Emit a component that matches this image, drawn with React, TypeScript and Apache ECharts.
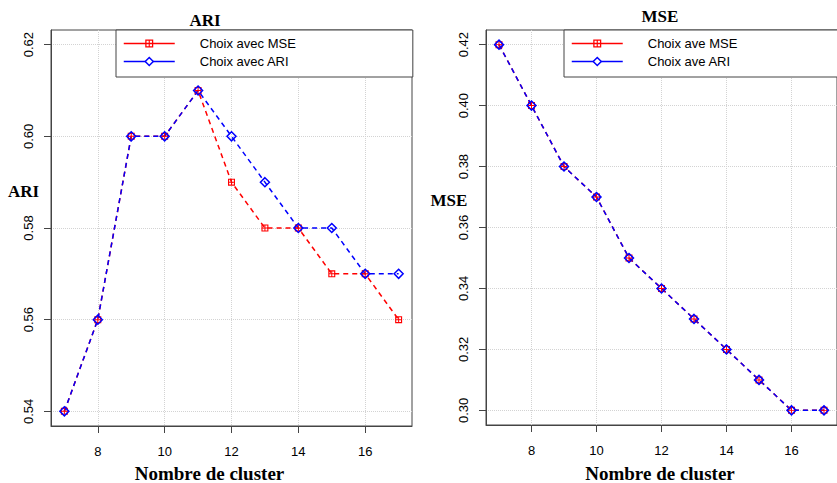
import React, { useEffect, useRef } from "react";
import * as echarts from "echarts";

const clusters = [7, 8, 9, 10, 11, 12, 13, 14, 15, 16, 17];
const ariChoixMSE = [0.54, 0.56, 0.6, 0.6, 0.61, 0.59, 0.58, 0.58, 0.57, 0.57, 0.56];
const ariChoixARI = [0.54, 0.56, 0.6, 0.6, 0.61, 0.6, 0.59, 0.58, 0.58, 0.57, 0.57];
const mseChoixMSE = [0.42, 0.4, 0.38, 0.37, 0.35, 0.34, 0.33, 0.32, 0.31, 0.3, 0.3];
const mseChoixARI = [0.42, 0.4, 0.38, 0.37, 0.35, 0.34, 0.33, 0.32, 0.31, 0.3, 0.3];
const xTicks = [8, 10, 12, 14, 16];
const ariTicks = [0.54, 0.56, 0.58, 0.6, 0.62];
const mseTicks = [0.3, 0.32, 0.34, 0.36, 0.38, 0.4, 0.42];

const RED = "#ff0000";
const BLUE = "#0000ff";
const SANS = "Liberation Sans, Arial, sans-serif";
const SERIF = "Liberation Serif, Times New Roman, serif";
const SQUARE_PLUS =
  "path://M0,0H10V10H0Z M1.6,1.6V4.3H4.3V1.6Z M5.7,1.6V4.3H8.4V1.6Z M1.6,5.7V8.4H4.3V5.7Z M5.7,5.7V8.4H8.4V5.7Z";

function pairs(ys: number[]) {
  return clusters.map((x, i) => [x, ys[i]]);
}

function xAxisFor(gridIndex: number) {
  return {
    type: "value",
    gridIndex,
    min: 6.6,
    max: 17.4,
    axisLine: { show: true, lineStyle: { color: "#444", width: 1 } },
    axisTick: { show: true, length: 7, customValues: xTicks, lineStyle: { color: "#444" } },
    axisLabel: {
      customValues: xTicks,
      margin: 19,
      fontSize: 13,
      color: "#000",
      fontFamily: SANS,
    },
    splitLine: { show: true, lineStyle: { color: "#d3d3d3", type: "dotted", width: 1 } },
  };
}

function yAxisFor(gridIndex: number, min: number, max: number, ticks: number[]) {
  return {
    type: "value",
    gridIndex,
    min,
    max,
    axisLine: { show: true, lineStyle: { color: "#444", width: 1 } },
    axisTick: { show: true, length: 7, customValues: ticks, lineStyle: { color: "#444" } },
    axisLabel: {
      customValues: ticks,
      rotate: 90,
      margin: 16,
      fontSize: 13,
      color: "#000",
      fontFamily: SANS,
      formatter: (v: number) => v.toFixed(2),
    },
    splitLine: { show: true, lineStyle: { color: "#d3d3d3", type: "dotted", width: 1 } },
  };
}

function redSeries(name: string, idx: number, ys: number[]) {
  return {
    name,
    type: "line",
    xAxisIndex: idx,
    yAxisIndex: idx,
    data: pairs(ys),
    symbol: SQUARE_PLUS,
    symbolSize: 7,
    itemStyle: { color: RED },
    lineStyle: { color: RED, width: 1.5, type: [5, 4] },
  };
}

function blueSeries(name: string, idx: number, ys: number[]) {
  return {
    name,
    type: "line",
    xAxisIndex: idx,
    yAxisIndex: idx,
    data: pairs(ys),
    symbol: "diamond",
    symbolSize: 9,
    itemStyle: { color: "rgba(0,0,0,0)", borderColor: BLUE, borderWidth: 1.5 },
    lineStyle: { color: BLUE, width: 1.5, type: [5, 4] },
  };
}

function legendFor(left: number, names: string[], padRight: number) {
  return {
    orient: "vertical",
    left,
    top: 30,
    padding: [7, padRight, 9, 7],
    itemWidth: 51,
    itemHeight: 10,
    itemGap: 5,
    backgroundColor: "#fff",
    borderColor: "#444",
    borderWidth: 1,
    borderRadius: 0,
    textStyle: { fontSize: 13, fontFamily: SANS, color: "#000", padding: [0, 0, 0, 20] },
    data: [
      { name: names[0], lineStyle: { color: RED, type: "solid", width: 1.5 }, itemStyle: { color: RED } },
      {
        name: names[1],
        lineStyle: { color: BLUE, type: "solid", width: 1.5 },
        itemStyle: { color: "#fff", borderColor: BLUE, borderWidth: 1.5 },
      },
    ],
  };
}

function label(text: string, x: number, y: number, size: number) {
  return {
    type: "text",
    x,
    y,
    style: {
      text,
      fill: "#000",
      font: `bold ${size}px ${SERIF}`,
      align: "center",
      verticalAlign: "middle",
    },
  };
}

export default function App() {
  const ref = useRef<HTMLDivElement>(null);
  useEffect(() => {
    document.body.style.margin = "0";
    if (!ref.current) return;
    const chart = echarts.init(ref.current, null, { renderer: "svg" });
    chart.setOption({
      animation: false,
      backgroundColor: "#fff",
      grid: [
        { left: 51, top: 30, width: 361, height: 396, show: true, borderColor: "#444", borderWidth: 1, backgroundColor: "transparent" },
        { left: 486, top: 30, width: 360, height: 395, show: true, borderColor: "#444", borderWidth: 1, backgroundColor: "transparent" },
      ],
      xAxis: [xAxisFor(0), xAxisFor(1)],
      yAxis: [
        yAxisFor(0, 0.5368, 0.6232, ariTicks),
        yAxisFor(1, 0.2952, 0.4248, mseTicks),
      ],
      legend: [
        legendFor(116, ["Choix avec MSE", "Choix avec ARI"], 117),
        legendFor(564, ["Choix ave MSE", "Choix ave ARI"], 250),
      ],
      series: [
        redSeries("Choix avec MSE", 0, ariChoixMSE),
        blueSeries("Choix avec ARI", 0, ariChoixARI),
        redSeries("Choix ave MSE", 1, mseChoixMSE),
        blueSeries("Choix ave ARI", 1, mseChoixARI),
      ],
      graphic: [
        label("ARI", 205, 20, 17),
        label("MSE", 660, 16, 17),
        label("Nombre de cluster", 209.5, 473, 19),
        label("Nombre de cluster", 660, 473, 19),
        label("ARI", 23.5, 191, 17),
        label("MSE", 449, 200, 17),
      ],
    });
    return () => chart.dispose();
  }, []);
  return <div ref={ref} style={{ width: 837, height: 483 }} />;
}
